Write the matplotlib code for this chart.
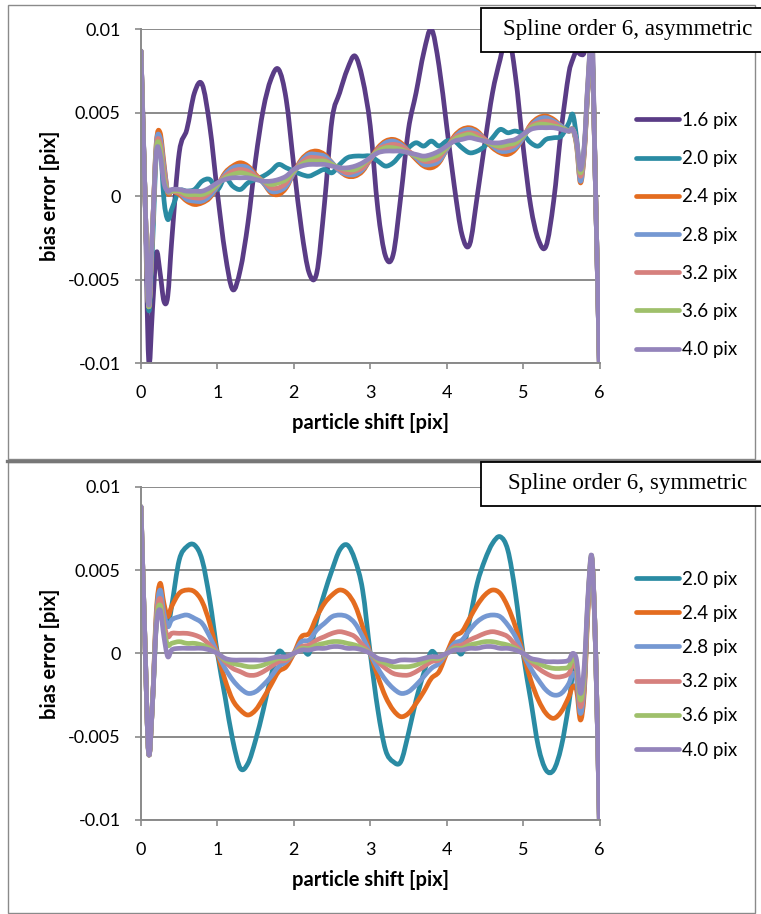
import numpy as np
import matplotlib
matplotlib.use("Agg")
import matplotlib.pyplot as plt
from matplotlib.path import Path
from matplotlib.patches import PathPatch, Rectangle
from matplotlib.lines import Line2D

# ---------------- data (bias error in units of 1e-3 pix) ----------------
shift = [0.0, 0.05, 0.1, 0.15, 0.2, 0.25, 0.3, 0.35, 0.4,
         0.5, 0.6, 0.7, 0.8, 0.9,
         1.0, 1.1, 1.2, 1.3, 1.4, 1.5, 1.6, 1.7, 1.8, 1.9,
         2.0, 2.1, 2.2, 2.3, 2.4, 2.5, 2.6, 2.7, 2.8, 2.9,
         3.0, 3.1, 3.2, 3.3, 3.4, 3.5, 3.6, 3.7, 3.8, 3.9,
         4.0, 4.1, 4.2, 4.3, 4.4, 4.5, 4.6, 4.7, 4.8, 4.9,
         5.0, 5.1, 5.2, 5.3, 5.4, 5.5, 5.6,
         5.65, 5.7, 5.75, 5.8, 5.85, 5.9, 5.95, 6.0]

labels_top = ["1.6 pix", "2.0 pix", "2.4 pix", "2.8 pix", "3.2 pix", "3.6 pix", "4.0 pix"]
labels_bot = ["2.0 pix", "2.4 pix", "2.8 pix", "3.2 pix", "3.6 pix", "4.0 pix"]

# asymmetric
asym_16 = [8.7, 0.5, -9.8, -6.8, -3.4, -4.6, -6.3, -6.0, -2.8,
           2.6, 4.0, 6.2, 6.7, 4.2,
           0.2, -3.4, -5.6, -4.4, -1.6, 2.2, 5.2, 7.0, 7.6, 5.8,
           1.8, -2.0, -4.6, -4.6, -0.5, 4.6, 6.2, 7.6, 8.4, 7.0,
           4.2, -0.8, -3.6, -3.5, 0.0, 4.0, 6.2, 8.6, 10.0, 7.8,
           4.2, 0.6, -2.3, -2.9, 0.0, 3.2, 6.2, 8.2, 9.8, 7.2,
           3.0, -0.6, -2.6, -3.0, -0.3, 4.0, 7.4,
           8.2, 8.7, 8.5, 8.6, 9.8, 10.2, 0.0, -10.5]
asym_20 = [8.7, 0.5, -6.8, -3.0, 2.5, 3.2, -0.2, -1.4, -0.8,
           0.3, 0.3, 0.4, 0.9, 1.0,
           0.4, 1.1, 0.6, 0.4, 0.8, 1.0, 1.2, 1.5, 1.9, 1.7,
           1.5, 1.3, 1.2, 1.4, 1.6, 1.4, 1.9, 2.3, 2.4, 2.4,
           2.4, 2.1, 1.8, 2.0, 2.5, 2.9, 3.2, 3.0, 3.3, 3.0,
           3.3, 3.3, 2.9, 2.6, 2.7, 3.0, 3.5, 4.0, 3.8, 3.9,
           3.7, 3.2, 3.0, 3.4, 3.5, 3.6, 4.4,
           4.9, 3.5, 1.2, 2.8, 6.5, 9.0, 0.0, -10.5]
asym_24 = [8.7, 0.5, -6.6, -2.0, 3.2, 3.8, 2.0, 0.2, 0.3,
           0.1, -0.3, -0.5, -0.4, -0.1,
           0.6, 1.4, 1.8, 2.0, 1.8, 1.3, 0.8, 0.2, 0.1, 0.5,
           1.4, 2.2, 2.6, 2.7, 2.5, 2.0, 1.5, 1.2, 1.2, 1.5,
           2.2, 2.9, 3.3, 3.4, 3.2, 2.7, 2.2, 1.8, 1.7, 2.0,
           2.8, 3.6, 4.0, 4.1, 3.9, 3.4, 2.9, 2.6, 2.5, 2.8,
           3.5, 4.3, 4.7, 4.8, 4.6, 4.2, 3.9,
           4.0, 3.0, 0.8, 2.5, 6.5, 8.8, 0.0, -10.5]
asym_28 = [8.7, 0.5, -6.6, -2.0, 3.1, 3.5, 1.8, 0.3, 0.3,
           0.2, -0.2, -0.3, -0.3, 0.0,
           0.6, 1.3, 1.7, 1.8, 1.7, 1.2, 0.8, 0.3, 0.3, 0.6,
           1.4, 2.1, 2.5, 2.5, 2.4, 2.0, 1.5, 1.3, 1.3, 1.6,
           2.2, 2.8, 3.2, 3.3, 3.1, 2.7, 2.3, 1.9, 1.9, 2.1,
           2.8, 3.5, 3.9, 4.0, 3.8, 3.4, 3.0, 2.7, 2.7, 2.9,
           3.5, 4.2, 4.6, 4.7, 4.5, 4.2, 3.9,
           4.0, 3.1, 0.9, 2.6, 6.6, 8.9, 0.0, -10.5]
asym_32 = [8.7, 0.5, -6.6, -2.0, 2.9, 3.2, 1.5, 0.3, 0.3,
           0.2, 0.0, -0.1, -0.1, 0.2,
           0.7, 1.2, 1.5, 1.6, 1.5, 1.2, 0.9, 0.5, 0.5, 0.8,
           1.5, 2.0, 2.3, 2.3, 2.2, 1.9, 1.6, 1.4, 1.5, 1.7,
           2.2, 2.8, 3.0, 3.1, 3.0, 2.7, 2.4, 2.1, 2.1, 2.3,
           2.9, 3.5, 3.7, 3.8, 3.7, 3.4, 3.1, 2.9, 2.9, 3.1,
           3.6, 4.2, 4.4, 4.5, 4.4, 4.1, 3.9,
           4.0, 3.2, 1.2, 2.7, 6.8, 9.0, 0.0, -10.5]
asym_36 = [8.7, 0.5, -6.6, -2.0, 2.8, 2.9, 1.1, 0.3, 0.3,
           0.3, 0.1, 0.1, 0.1, 0.3,
           0.7, 1.1, 1.3, 1.4, 1.3, 1.1, 0.9, 0.7, 0.8, 1.0,
           1.5, 1.9, 2.1, 2.1, 2.1, 1.9, 1.7, 1.6, 1.6, 1.9,
           2.3, 2.7, 2.9, 2.9, 2.8, 2.6, 2.4, 2.2, 2.3, 2.5,
           2.9, 3.4, 3.6, 3.7, 3.5, 3.3, 3.1, 3.0, 3.1, 3.2,
           3.6, 4.1, 4.3, 4.3, 4.2, 4.1, 3.9,
           4.0, 3.2, 1.4, 2.9, 6.9, 9.2, 0.0, -10.5]
asym_40 = [8.7, 0.5, -6.5, -2.0, 2.6, 2.5, 0.8, 0.3, 0.4,
           0.4, 0.3, 0.3, 0.3, 0.5,
           0.8, 1.0, 1.1, 1.1, 1.1, 1.0, 0.9, 0.9, 1.0, 1.2,
           1.6, 1.8, 1.9, 1.9, 1.9, 1.8, 1.7, 1.7, 1.8, 2.0,
           2.3, 2.6, 2.7, 2.7, 2.7, 2.6, 2.5, 2.4, 2.5, 2.7,
           3.0, 3.3, 3.4, 3.5, 3.4, 3.3, 3.2, 3.2, 3.3, 3.4,
           3.7, 4.0, 4.1, 4.1, 4.1, 4.0, 3.9,
           4.0, 3.3, 1.6, 3.0, 7.0, 9.3, 0.0, -10.5]

# symmetric
sym_20 = [8.8, 1.0, -6.0, -3.0, 1.8, 3.6, 2.6, 1.6, 2.8,
          5.6, 6.4, 6.5, 5.6, 3.2,
          0.0, -2.6, -5.2, -6.9, -6.6, -5.2, -3.4, -1.4, 0.1, -0.2,
          0.0, 0.4, 0.0, 2.0, 3.6, 5.0, 6.2, 6.5, 5.6, 3.8,
          0.0, -3.4, -5.8, -6.5, -6.5, -4.8, -2.8, -1.2, 0.1, -0.3,
          0.0, 0.5, 0.0, 2.0, 4.2, 5.6, 6.6, 7.0, 6.2, 3.6,
          0.0, -2.8, -5.6, -7.0, -7.0, -5.6, -3.0,
          -1.2, -0.8, -3.6, -2.0, 3.0, 5.6, 0.0, -10.5]
sym_24 = [8.8, 1.0, -6.0, -3.0, 2.5, 4.2, 3.0, 2.2, 2.8,
          3.6, 3.8, 3.7, 3.1, 1.8,
          0.0, -1.6, -2.8, -3.4, -3.7, -3.4, -2.7, -1.9, -1.1, -0.8,
          0.0, 1.0, 1.2, 2.2, 3.0, 3.5, 3.8, 3.6, 2.9, 1.6,
          0.0, -1.4, -2.6, -3.4, -3.8, -3.6, -3.0, -2.3, -1.5, -1.1,
          0.0, 1.0, 1.3, 2.1, 2.9, 3.5, 3.8, 3.6, 2.8, 1.6,
          0.0, -1.6, -2.8, -3.6, -3.9, -3.5, -2.6,
          -2.0, -2.2, -4.0, -2.4, 2.6, 5.7, 0.0, -10.5]
sym_28 = [8.8, 1.0, -6.0, -3.0, 2.2, 3.8, 2.4, 1.6, 2.0,
          2.2, 2.3, 2.1, 1.8, 1.0,
          0.0, -0.9, -1.6, -2.1, -2.4, -2.3, -1.9, -1.4, -0.8, -0.5,
          0.0, 0.7, 0.8, 1.4, 1.8, 2.2, 2.3, 2.2, 1.8, 1.0,
          0.0, -0.9, -1.6, -2.1, -2.4, -2.3, -1.9, -1.4, -0.9, -0.6,
          0.0, 0.6, 0.8, 1.4, 1.9, 2.2, 2.3, 2.2, 1.7, 1.0,
          0.0, -0.9, -1.6, -2.2, -2.5, -2.4, -1.8,
          -1.2, -1.6, -3.6, -2.0, 3.0, 5.7, 0.0, -10.5]
sym_32 = [8.8, 1.0, -6.0, -3.0, 2.0, 3.3, 1.8, 1.0, 1.2,
          1.2, 1.2, 1.1, 0.9, 0.5,
          0.0, -0.5, -0.9, -1.1, -1.3, -1.3, -1.1, -0.8, -0.5, -0.4,
          0.0, 0.4, 0.5, 0.8, 1.0, 1.2, 1.3, 1.2, 1.0, 0.5,
          0.0, -0.5, -0.9, -1.2, -1.3, -1.3, -1.1, -0.8, -0.5, -0.4,
          0.0, 0.4, 0.5, 0.8, 1.0, 1.2, 1.3, 1.2, 1.0, 0.5,
          0.0, -0.5, -0.9, -1.2, -1.4, -1.4, -1.2,
          -0.7, -1.0, -3.2, -1.6, 3.2, 5.7, 0.0, -10.5]
sym_36 = [8.8, 1.0, -6.0, -3.0, 1.8, 2.9, 1.4, 0.5, 0.6,
          0.7, 0.6, 0.6, 0.5, 0.3,
          0.0, -0.4, -0.6, -0.7, -0.8, -0.8, -0.7, -0.5, -0.3, -0.3,
          0.0, 0.3, 0.3, 0.5, 0.6, 0.7, 0.7, 0.6, 0.5, 0.3,
          0.0, -0.4, -0.6, -0.8, -0.8, -0.8, -0.7, -0.5, -0.3, -0.3,
          0.0, 0.3, 0.3, 0.5, 0.6, 0.7, 0.7, 0.6, 0.5, 0.3,
          0.0, -0.4, -0.6, -0.8, -0.9, -0.9, -0.8,
          -0.3, -0.7, -2.8, -1.2, 3.3, 5.8, 0.0, -10.5]
sym_40 = [8.8, 1.0, -6.0, -3.0, 1.6, 2.6, 1.0, -0.2, 0.2,
          0.3, 0.3, 0.3, 0.3, 0.2,
          0.0, -0.3, -0.4, -0.4, -0.4, -0.4, -0.4, -0.3, -0.2, -0.2,
          0.0, 0.2, 0.2, 0.3, 0.3, 0.4, 0.4, 0.3, 0.3, 0.2,
          0.0, -0.3, -0.4, -0.5, -0.4, -0.4, -0.4, -0.3, -0.2, -0.2,
          0.0, 0.2, 0.2, 0.3, 0.3, 0.4, 0.4, 0.3, 0.3, 0.2,
          0.0, -0.3, -0.4, -0.5, -0.5, -0.5, -0.4,
          0.0, -0.4, -2.4, -0.8, 3.5, 5.8, 0.0, -10.5]

yticks = [-0.01, -0.005, 0.0, 0.005, 0.01]
ytick_labels = ["-0.01", "-0.005", "0", "0.005", "0.01"]
xticks = [0, 1, 2, 3, 4, 5, 6]

colors_top = ["#5a3c86", "#2a8ba3", "#e46c1f", "#7598d2", "#d6807d", "#9fc06b", "#9484bb"]
colors_bot = colors_top[1:]

# ---------------- figure ----------------
W, H = 761, 914
fig = plt.figure(figsize=(W / 100, H / 100), dpi=100)
fig.patch.set_facecolor("white")

SANS = ["Lato", "DejaVu Sans"]
GRID = "#8a8a8a"
TICK_FS = 13
LAB_FS = 14.5
LEG_FS = 13.5


def fx(px):
    return px / W


def fy(py):
    return 1 - py / H


def smooth_path(xs, ys):
    """Excel-like smoothed line: cubic Bezier through every data point."""
    xs = np.asarray(xs, float)
    ys = np.asarray(ys, float)
    n = len(xs)
    m = np.empty(n)
    m[1:-1] = (ys[2:] - ys[:-2]) / (xs[2:] - xs[:-2])
    m[0] = (ys[1] - ys[0]) / (xs[1] - xs[0])
    m[-1] = (ys[-1] - ys[-2]) / (xs[-1] - xs[-2])
    verts = [(xs[0], ys[0])]
    codes = [Path.MOVETO]
    for i in range(n - 1):
        h = xs[i + 1] - xs[i]
        verts += [(xs[i] + h / 3, ys[i] + m[i] * h / 3),
                  (xs[i + 1] - h / 3, ys[i + 1] - m[i + 1] * h / 3),
                  (xs[i + 1], ys[i + 1])]
        codes += [Path.CURVE4] * 3
    return Path(verts, codes)


def setup_axes(ax):
    ax.set_xlim(0, 6)
    ax.set_ylim(-0.01, 0.01)
    ax.set_yticks(yticks)
    ax.set_yticklabels(ytick_labels)
    ax.set_xticks(xticks)
    ax.set_xticklabels([str(t) for t in xticks])
    for s in ["top", "right"]:
        ax.spines[s].set_visible(False)
    for s in ["left", "bottom"]:
        ax.spines[s].set_color(GRID)
        ax.spines[s].set_linewidth(1.4)
    ax.grid(axis="y", color=GRID, linewidth=1.4)
    ax.set_axisbelow(True)
    ax.tick_params(axis="both", direction="out", length=4.5, width=1.2, color=GRID,
                   labelsize=TICK_FS, labelcolor="black")
    ax.tick_params(axis="x", pad=11)
    ax.tick_params(axis="y", pad=10)
    for lab in ax.get_xticklabels() + ax.get_yticklabels():
        lab.set_fontfamily(SANS)
    ax.set_xlabel("particle shift [pix]", fontsize=LAB_FS, fontweight="bold",
                  family=SANS, labelpad=9)
    ax.set_ylabel("bias error [pix]", fontsize=LAB_FS, fontweight="bold",
                  family=SANS, labelpad=6)


def draw_series(ax, series, colors, labels):
    handles = []
    for ys, c, lab in zip(series, colors, labels):
        yv = np.asarray(ys, float) * 1e-3
        patch = PathPatch(smooth_path(shift, yv), facecolor="none", edgecolor=c,
                          linewidth=3.4, capstyle="round", joinstyle="round")
        ax.add_patch(patch)
        handles.append(Line2D([0], [0], color=c, linewidth=3.4, solid_capstyle="round", label=lab))
    return handles


# frames
fig.add_artist(Rectangle((fx(7.5), fy(459)), fx(755) - fx(7.5), fy(5) - fy(459),
                         transform=fig.transFigure, facecolor="none", edgecolor=GRID, lw=1.0))
fig.add_artist(Rectangle((fx(7.5), fy(913)), fx(755) - fx(7.5), fy(462) - fy(913),
                         transform=fig.transFigure, facecolor="none", edgecolor=GRID, lw=1.0))
fig.add_artist(Line2D([fx(7), fx(761)], [fy(460.5), fy(460.5)], transform=fig.transFigure,
                      color="#777777", lw=2.4))

# top panel
ax1 = fig.add_axes([fx(141), fy(363), fx(599.5) - fx(141), fy(29.3) - fy(363)])
setup_axes(ax1)
h1 = draw_series(ax1, [asym_16, asym_20, asym_24, asym_28, asym_32, asym_36, asym_40],
                 colors_top, labels_top)
ax1.legend(handles=h1, loc="upper left", bbox_to_anchor=(fx(636), fy(112)),
           bbox_transform=fig.transFigure, frameon=False, prop={"family": SANS, "size": LEG_FS},
           handlelength=2.3, handletextpad=0.18, labelspacing=1.13, borderpad=0,
           borderaxespad=0)

# bottom panel
ax2 = fig.add_axes([fx(141), fy(820), fx(599.5) - fx(141), fy(486.7) - fy(820)])
setup_axes(ax2)
h2 = draw_series(ax2, [sym_20, sym_24, sym_28, sym_32, sym_36, sym_40], colors_bot, labels_bot)
ax2.legend(handles=h2, loc="upper left", bbox_to_anchor=(fx(636), fy(570.5)),
           bbox_transform=fig.transFigure, frameon=False, prop={"family": SANS, "size": LEG_FS},
           handlelength=2.3, handletextpad=0.18, labelspacing=0.92, borderpad=0,
           borderaxespad=0)

# title boxes
for (y0, y1, tx, txt) in [(8, 52, 503, "Spline order 6, asymmetric"),
                          (462, 506, 508, "Spline order 6, symmetric")]:
    fig.add_artist(Rectangle((fx(481), fy(y1)), fx(790) - fx(481), fy(y0) - fy(y1),
                             transform=fig.transFigure, facecolor="white", edgecolor="black",
                             lw=1.3, zorder=10))
    fig.text(fx(tx), fy((y0 + y1) / 2), txt, ha="left", va="center",
             family=["Liberation Serif", "DejaVu Serif"], fontsize=16.6, zorder=11)

fig.savefig("out.png", dpi=100)
